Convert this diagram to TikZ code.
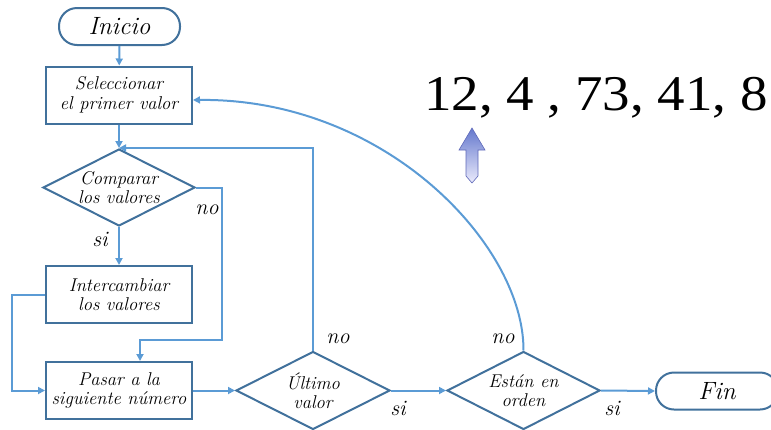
\documentclass[tikz,border=0pt]{standalone}
\usepackage{fontspec}
\newfontfamily\numfont{Liberation Serif}
\usetikzlibrary{arrows.meta,shapes.geometric}
\definecolor{edgeblue}{RGB}{65,113,156}
\definecolor{flowblue}{RGB}{91,155,213}
\definecolor{arrowtop}{RGB}{100,120,205}
\definecolor{arrowbot}{RGB}{235,235,252}
\definecolor{arrowline}{RGB}{95,105,185}
\begin{document}
\begin{tikzpicture}[x=1pt,y=-1pt,
  boxtext/.style={font=\itshape\fontsize{18.5}{19.5}\selectfont, align=center},
  procbox/.style={draw=edgeblue, line width=2pt, fill=white, minimum width=146pt, minimum height=57pt, inner sep=0pt, boxtext},
  termbox/.style={draw=edgeblue, line width=2pt, fill=white, rounded corners=18pt, minimum height=37pt, inner sep=0pt, font=\itshape\fontsize{25}{25}\selectfont},
  decbox/.style={draw=edgeblue, line width=2pt, fill=white, diamond, inner sep=0pt},
  flowline/.style={draw=flowblue, line width=2pt, -{Triangle[length=7pt,width=7pt]}},
  tag/.style={font=\itshape\fontsize{22}{22}\selectfont, inner sep=0pt}
]
\useasboundingbox (0,0) rectangle (771,429);

% process column
\node[termbox, minimum width=121pt] (ini) at (119.5,26.5) {Inicio};
\node[procbox] (sel) at (119,95) {Seleccionar\\el primer valor};
\node[decbox, minimum width=152pt, minimum height=77pt] (cmp) at (119,187.5) {};
\node[boxtext] at (cmp) {Comparar\\los valores};
\node[procbox] (int) at (119,294.5) {Intercambiar\\los valores};
\node[procbox] (pas) at (119,390.5) {Pasar a la\\siguiente número};

% bottom row
\node[decbox, minimum width=154pt, minimum height=78pt] (ult) at (313,390.5) {};
\node[boxtext] at (ult) {Último\\valor};
\node[decbox, minimum width=153pt, minimum height=78pt] (est) at (523.5,390.5) {};
\node[boxtext] at (est) {Están en\\orden};
\node[termbox, minimum width=122pt] (fin) at (717,391) {Fin};

% list of values and pointer
\node[font=\numfont\fontsize{50}{50}\selectfont, anchor=base west, inner sep=0pt] (vals) at (424,110) {\scalebox{1.1}[1]{12, 4 , 73, 41, 8}};
\path[draw=arrowline, line width=0.6pt, top color=arrowtop, bottom color=arrowbot]
  (472,128) -- (485,150) -- (478,150) -- (478,176) -- (472,183) -- (466,176) -- (466,150) -- (459,150) -- cycle;

% connectors
\coordinate (noA) at (222,340);
\draw[flowline] (ini) -- (sel);
\draw[flowline] (sel) -- (cmp.north);
\draw[flowline] (cmp.south) -- (int.north);
\draw[flowline] (cmp.east) -| (noA) -| ([xshift=21pt]pas.north);
\draw[flowline] (int.west) -- ++(-33,0) |- (pas.west);
\draw[flowline] (pas.east) -- (ult.west);
\draw[flowline] (ult.north) |- (cmp.north);
\draw[flowline] (ult.east) -- (est.west);
\draw[flowline] (est.north) .. controls (524,245) and (385,98) .. ([yshift=-5pt]sel.east);
\draw[flowline] (est.east) -- (fin.west);

% branch labels
\node[tag] at (207,210) {no};
\node[tag] at (100,239) {si};
\node[tag] at (338,339) {no};
\node[tag] at (398,408) {si};
\node[tag] at (503,339) {no};
\node[tag] at (612,408) {si};
\end{tikzpicture}
\end{document}
